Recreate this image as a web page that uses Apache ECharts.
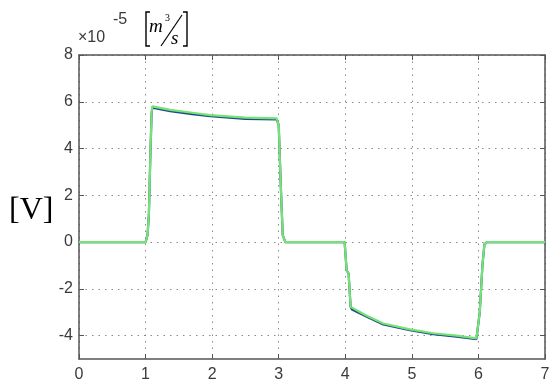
<!DOCTYPE html>
<html>
<head>
<meta charset="utf-8">
<script src="https://cdn.jsdelivr.net/npm/echarts@6/dist/echarts.min.js"></script>
<style>
  html, body { margin: 0; padding: 0; background: #fff; }
  #chart { width: 553px; height: 387px; }
</style>
</head>
<body>
<div id="chart"></div>
<script>
// Time axis (s) and the two flow traces (×10^-5 m³/s)
const timeGreen = [0, 1.0, 1.03, 1.05, 1.07, 1.09, 1.1, 1.37, 1.7, 1.97, 2.5, 2.97, 3.0, 3.03, 3.06, 3.1, 3.99, 4.02, 4.05, 4.08, 4.1, 4.3, 4.57, 4.97, 5.32, 5.67, 5.97, 6.02, 6.06, 6.09, 6.13, 7];
const flowGreen = [0, 0, 0.3, 1.2, 3.5, 5.5, 5.8, 5.65, 5.53, 5.43, 5.32, 5.29, 5.0, 2.5, 0.3, 0, 0, -1.2, -1.35, -2.77, -2.85, -3.12, -3.48, -3.73, -3.9, -4.0, -4.12, -3.0, -1.0, -0.1, 0, 0];

const timeBlue = [0, 1.0, 1.03, 1.05, 1.07, 1.09, 1.1, 1.37, 1.7, 1.97, 2.5, 2.97, 3.0, 3.03, 3.06, 3.1, 3.99, 4.02, 4.05, 4.08, 4.1, 4.3, 4.57, 4.97, 5.32, 5.67, 5.97, 6.02, 6.06, 6.09, 6.13, 7];
const flowBlue = [0, 0, 0.3, 1.2, 3.5, 5.45, 5.75, 5.6, 5.47, 5.38, 5.27, 5.25, 5.0, 2.5, 0.3, 0, 0, -1.2, -1.35, -2.77, -2.88, -3.16, -3.52, -3.77, -3.94, -4.04, -4.15, -3.0, -1.0, -0.1, 0, 0];

const xTicks = [0, 1, 2, 3, 4, 5, 6, 7];
const yTicks = [-4, -2, 0, 2, 4, 6, 8];

const pairs = (xs, ys) => xs.map((x, i) => [x, ys[i]]);

const chart = echarts.init(document.getElementById('chart'), null, { renderer: 'canvas' });

const sans = 'Arial';
const serif = 'Liberation Serif';
const labelFont = { fontFamily: sans, fontSize: 16, color: '#3a3a3a' };
const gridDots = { show: true, lineStyle: { color: '#8a8a8a', width: 1, type: [1.5, 5] } };
const frame = { show: true, onZero: false, lineStyle: { color: '#555', width: 1.5 } };
const innerTick = { show: true, inside: true, length: 5, lineStyle: { color: '#555', width: 1 } };

chart.setOption({
  animation: false,
  backgroundColor: '#fff',
  grid: { left: 79, right: 8, top: 55, bottom: 28, containLabel: false },
  xAxis: [
    {
      type: 'value', min: 0, max: 7, interval: 1, position: 'bottom',
      axisLine: frame, axisTick: innerTick,
      axisLabel: Object.assign({ margin: 8, showMinLabel: true, showMaxLabel: true }, labelFont),
      splitLine: gridDots
    },
    {
      type: 'value', min: 0, max: 7, interval: 1, position: 'top',
      axisLine: frame, axisTick: innerTick, axisLabel: { show: false }, splitLine: { show: false }
    }
  ],
  yAxis: [
    {
      type: 'value', min: -5, max: 8, position: 'left',
      axisLine: frame,
      axisTick: Object.assign({ customValues: yTicks }, innerTick),
      axisLabel: Object.assign({ margin: 6, customValues: yTicks }, labelFont),
      splitLine: gridDots
    },
    {
      type: 'value', min: -5, max: 8, position: 'right',
      axisLine: frame,
      axisTick: Object.assign({ customValues: yTicks }, innerTick),
      axisLabel: { show: false }, splitLine: { show: false }
    }
  ],
  series: [
    {
      type: 'line', data: pairs(timeBlue, flowBlue), showSymbol: false,
      lineStyle: { color: '#1f4a8a', width: 2.2 }, z: 2
    },
    {
      type: 'line', data: pairs(timeGreen, flowGreen), showSymbol: false,
      lineStyle: { color: '#74e274', width: 2.2 }, z: 3
    }
  ],
  graphic: [
    { type: 'text', left: 78, top: 30, style: { text: '×10', fontFamily: sans, fontSize: 16, fill: '#3a3a3a' } },
    { type: 'text', left: 113, top: 12, style: { text: '-5', fontFamily: sans, fontSize: 16, fill: '#3a3a3a' } },
    // unit label [m³/s]
    { type: 'polyline', shape: { points: [[150, 12], [146, 12], [146, 46], [150, 46]] }, style: { stroke: '#000', lineWidth: 1.4, fill: null } },
    { type: 'polyline', shape: { points: [[183, 12], [187, 12], [187, 46], [183, 46]] }, style: { stroke: '#000', lineWidth: 1.4, fill: null } },
    { type: 'text', left: 149, top: 17, style: { text: 'm', fontFamily: serif, fontStyle: 'italic', fontSize: 19, fill: '#000' } },
    { type: 'text', left: 165, top: 13, style: { text: '3', fontFamily: serif, fontSize: 10, fill: '#000' } },
    { type: 'line', shape: { x1: 161, y1: 46, x2: 182, y2: 15 }, style: { stroke: '#000', lineWidth: 1.2 } },
    { type: 'text', left: 171, top: 29, style: { text: 's', fontFamily: serif, fontStyle: 'italic', fontSize: 19, fill: '#000' } },
    // left label
    { type: 'text', left: 9, top: 195, style: { text: '[V]', fontFamily: serif, fontSize: 32, fill: '#000' } }
  ]
});
</script>
</body>
</html>
